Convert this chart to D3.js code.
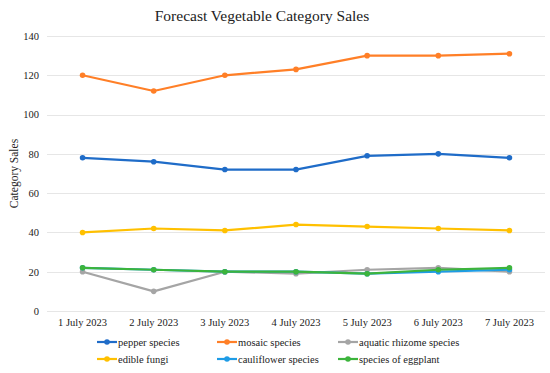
<!DOCTYPE html>
<html>
<head>
<meta charset="utf-8">
<script src="https://cdn.jsdelivr.net/npm/d3@7"></script>
<style>
  body { margin: 0; background: #fff; }
  svg text { font-family: "Liberation Serif", "Times New Roman", serif !important; fill: #222; }
</style>
</head>
<body>
<svg id="chart" width="550" height="373" font-family="Liberation Serif"></svg>
<script>
// dates along the x axis
var days = ["1 July 2023", "2 July 2023", "3 July 2023", "4 July 2023", "5 July 2023", "6 July 2023", "7 July 2023"];
var yTicks = [0, 20, 40, 60, 80, 100, 120, 140];

var seriesNames = ["pepper species", "mosaic species", "aquatic rhizome species",
                   "edible fungi", "cauliflower species", "species of eggplant"];
var pepper = [78, 76, 72, 72, 79, 80, 78];
var mosaic = [120, 112, 120, 123, 130, 130, 131];
var aquatic = [20, 10, 20, 19, 21, 22, 20];
var fungi = [40, 42, 41, 44, 43, 42, 41];
var cauliflower = [22, 21, 20, 20, 19, 20, 21];
var eggplant = [22, 21, 20, 20, 19, 21, 22];

var colors = ["#1f6cc8", "#ff7f27", "#a5a5a5", "#ffc000", "#1e9ce6", "#3cb43c"];

var series = [pepper, mosaic, aquatic, fungi, cauliflower, eggplant].map(function(v, i) {
  return { name: seriesNames[i], color: colors[i], values: v };
});

var svg = d3.select("#chart");
var plotLeft = 47, plotRight = 545, plotTop = 36, plotBottom = 311;

var x = d3.scaleBand().domain(days).range([plotLeft, plotRight]);
var y = d3.scaleLinear().domain([0, 140]).range([plotBottom, plotTop]);

// title
svg.append("text")
  .attr("x", 262).attr("y", 21)
  .attr("text-anchor", "middle")
  .style("font-size", "15.5px")
  .text("Forecast Vegetable Category Sales");

// gridlines
svg.append("g").selectAll("line")
  .data(yTicks)
  .enter().append("line")
    .attr("x1", plotLeft).attr("x2", plotRight)
    .attr("y1", d => Math.round(y(d)) + 0.5)
    .attr("y2", d => Math.round(y(d)) + 0.5)
    .attr("stroke", "#e6e6e6")
    .attr("stroke-width", 1);

// y axis labels
var yAxis = svg.append("g")
  .attr("transform", "translate(" + (plotLeft - 8) + ",0)")
  .call(d3.axisLeft(y).tickValues(yTicks).tickSize(0).tickPadding(0))
  .attr("font-family", "Liberation Serif")
  .attr("font-size", "10.5px");
yAxis.select(".domain").remove();
yAxis.selectAll("text").attr("fill", "#222");

// x axis labels
var xAxis = svg.append("g")
  .attr("transform", "translate(0," + (plotBottom + 8) + ")")
  .call(d3.axisBottom(x).tickSize(0).tickPadding(0))
  .attr("font-family", "Liberation Serif")
  .attr("font-size", "10.5px");
xAxis.select(".domain").remove();
xAxis.selectAll("text").attr("fill", "#222");

// y axis title
svg.append("text")
  .attr("transform", "translate(18," + ((plotTop + plotBottom) / 2) + ") rotate(-90)")
  .attr("text-anchor", "middle")
  .style("font-size", "11.5px")
  .attr("fill", "#444")
  .text("Category Sales");

var line = d3.line()
  .x((d, i) => x(days[i]) + x.bandwidth() / 2)
  .y(d => y(d));

var groups = svg.append("g").selectAll("g")
  .data(series)
  .enter().append("g");

groups.append("path")
  .attr("d", d => line(d.values))
  .attr("fill", "none")
  .attr("stroke", d => d.color)
  .attr("stroke-width", 2.2)
  .attr("stroke-linejoin", "round");

groups.each(function(s) {
  d3.select(this).selectAll("circle")
    .data(s.values)
    .enter().append("circle")
      .attr("cx", (d, i) => x(days[i]) + x.bandwidth() / 2)
      .attr("cy", d => y(d))
      .attr("r", 2.8)
      .attr("fill", s.color);
});

// legend
var legendCols = [97, 217, 338];
var legendRows = [342, 359];
var legend = svg.append("g").selectAll("g")
  .data(series)
  .enter().append("g")
    .attr("transform", (d, i) => "translate(" + legendCols[i % 3] + "," + legendRows[Math.floor(i / 3)] + ")");

legend.append("line")
  .attr("x1", 0).attr("x2", 20)
  .attr("stroke", d => d.color)
  .attr("stroke-width", 2.2);
legend.append("circle")
  .attr("cx", 10).attr("r", 2.8)
  .attr("fill", d => d.color);
legend.append("text")
  .attr("x", 21).attr("dy", "0.35em")
  .style("font-size", "10.5px")
  .text(d => d.name);
</script>
</body>
</html>
